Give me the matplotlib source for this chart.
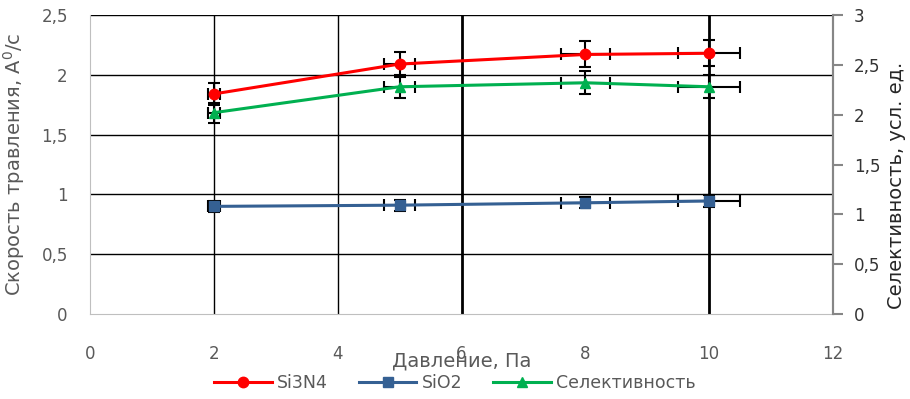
import matplotlib
matplotlib.use("Agg")
import matplotlib.pyplot as plt
from matplotlib.ticker import FuncFormatter, MultipleLocator

plt.rcParams["font.family"] = ["DejaVu Sans"]

pressure = [2, 5, 8, 10]
si3n4 = [1.84, 2.09, 2.17, 2.18]
sio2 = [0.90, 0.91, 0.93, 0.945]
selectivity = [2.02, 2.28, 2.32, 2.28]
x_err = [p * 0.05 for p in pressure]

red = "#FF0000"
blue = "#356093"
green = "#00B050"
grey = "#595959"


def comma(v, pos):
    s = ("%g" % v)
    return s.replace(".", ",")


fig = plt.figure(figsize=(9.1, 3.99), dpi=100)
ax = fig.add_axes([0.0989, 0.213, 0.8165, 0.7494])
ax2 = ax.twinx()

err_kw = dict(ecolor="black", elinewidth=1.5, capsize=4, capthick=1.5)
l1 = ax.errorbar(pressure, si3n4, xerr=x_err, yerr=[v * 0.05 for v in si3n4],
                 color=red, lw=2.2, marker="o", ms=7.5, label="Si3N4", zorder=4, **err_kw)
l2 = ax.errorbar(pressure, sio2, xerr=x_err, yerr=[v * 0.05 for v in sio2],
                 color=blue, lw=2.2, marker="s", ms=7.5, label="SiO2", zorder=4, **err_kw)
l3 = ax2.errorbar(pressure, selectivity, xerr=x_err, yerr=[v * 0.05 for v in selectivity],
                  color=green, lw=2.2, marker="^", ms=7.5, label="Селективность", zorder=4, **err_kw)

ax.set_xlim(0, 12)
ax.set_ylim(0, 2.5)
ax2.set_ylim(0, 3)
ax.xaxis.set_major_locator(MultipleLocator(2))
ax.yaxis.set_major_locator(MultipleLocator(0.5))
ax2.yaxis.set_major_locator(MultipleLocator(0.5))
ax.yaxis.set_major_formatter(FuncFormatter(comma))
ax2.yaxis.set_major_formatter(FuncFormatter(comma))

ax.grid(True, color="black", lw=1)
fig.canvas.draw()
# vertical grid only at 2, 4, 6, 10; the ones at 6 and 10 are heavier
for tick, line in zip(ax.get_xticks(), ax.get_xgridlines()):
    if tick in (2, 4):
        line.set_linewidth(1)
    elif tick in (6, 10):
        line.set_linewidth(2)
    else:
        line.set_visible(False)
for tick, line in zip(ax.get_yticks(), ax.get_ygridlines()):
    if tick == 0:
        line.set_visible(False)

for a in (ax, ax2):
    a.spines["top"].set_visible(False)
    a.spines["left"].set_color("#BFBFBF")
    a.spines["bottom"].set_color("#BFBFBF")
    a.spines["right"].set_color("#868686")
    a.spines["right"].set_linewidth(1.5)
ax2.spines["left"].set_visible(False)
ax2.spines["bottom"].set_visible(False)

ax.tick_params(axis="y", length=0, pad=16, labelsize=12, labelcolor=grey)
ax.tick_params(axis="x", length=0, pad=22, labelsize=12, labelcolor=grey)
ax2.tick_params(axis="y", length=7, width=1.5, color="#868686", pad=8,
                labelsize=12, labelcolor="#333333")

ax.set_xlabel("Давление, Па", fontsize=14, color=grey, labelpad=-8)
ax.set_ylabel("Скорость травления, А$^0$/с", fontsize=14, color=grey)
ax.yaxis.set_label_coords(-0.085, 0.5)
ax2.set_ylabel("Селективность, усл. ед.", fontsize=14, color="#262626")
ax2.yaxis.set_label_coords(1.072, 0.43)

handles = [l1.lines[0], l2.lines[0], l3.lines[0]]
fig.legend(handles, ["Si3N4", "SiO2", "Селективность"], loc="center",
           bbox_to_anchor=(0.5, 0.04), ncol=3, frameon=False, fontsize=12.5,
           handlelength=3.3, handletextpad=0.3, columnspacing=1.8, labelcolor=grey)

fig.savefig("out.png", dpi=100)
